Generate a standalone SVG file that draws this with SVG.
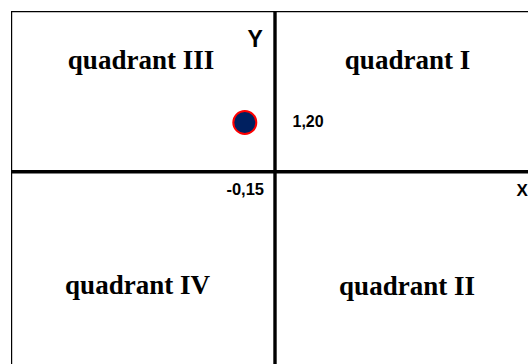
<svg xmlns="http://www.w3.org/2000/svg" width="528" height="364" viewBox="0 0 528 364">
  <style>
    .q { font-family: "Liberation Serif", "Times New Roman", serif; font-weight: bold; font-size: 27px; fill: #000; text-anchor: middle; }
    .lab { font-family: "Liberation Sans", Arial, sans-serif; font-weight: bold; fill: #000; }
    .axis { stroke: #000; stroke-width: 3.4; fill: none; }
    .frame { stroke: #000; stroke-width: 1.2; fill: none; }
  </style>
  <rect x="0" y="0" width="528" height="364" fill="#fff"/>
  <g id="connectors">
    <path class="frame" d="M11.6,364 V11.6 H528"/>
    <line class="axis" x1="275" y1="11" x2="275" y2="364"/>
    <line class="axis" x1="11" y1="171.7" x2="528" y2="171.7"/>
  </g>
  <g id="quadrant-III"><text class="q" x="141" y="69">quadrant III</text></g>
  <g id="quadrant-I"><text class="q" x="407.5" y="69">quadrant I</text></g>
  <g id="quadrant-IV"><text class="q" x="137.5" y="294">quadrant IV</text></g>
  <g id="quadrant-II"><text class="q" x="407" y="295">quadrant II</text></g>
  <g id="label-Y"><text class="lab" x="247.5" y="46.7" font-size="23">Y</text></g>
  <g id="label-X"><text class="lab" x="516.5" y="195.5" font-size="17">X</text></g>
  <g id="label-120"><text class="lab" x="292.5" y="126.7" font-size="16">1,20</text></g>
  <g id="label-015"><text class="lab" x="264" y="195" font-size="16.5" text-anchor="end">-0,15</text></g>
  <g id="point"><circle cx="244.8" cy="122.5" r="11.5" fill="#002060" stroke="#ff0000" stroke-width="2"/></g>
</svg>
